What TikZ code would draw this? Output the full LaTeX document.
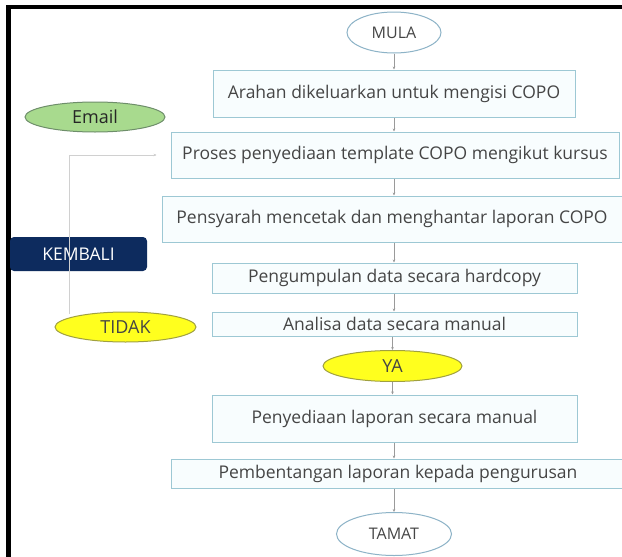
\documentclass[tikz,border=0pt]{standalone}
\usepackage{fontspec}
\setmainfont{Open Sans}
\usetikzlibrary{shapes.geometric,arrows.meta,calc}
\definecolor{bxline}{HTML}{9DC8D4}
\definecolor{bxfill}{HTML}{F8FDFE}
\definecolor{elline}{HTML}{8DB3C7}
\definecolor{txt}{HTML}{454545}
\definecolor{emfill}{HTML}{A8DA8E}
\definecolor{emline}{HTML}{6E8E6A}
\definecolor{navy}{HTML}{0D2B5E}
\definecolor{yel}{HTML}{FFFF1E}
\definecolor{yelline}{HTML}{A0A040}
\definecolor{conn}{HTML}{9A9A9A}
\definecolor{fbline}{HTML}{D0D0D0}
\tikzset{
  stepbox/.style={draw=bxline, line width=1pt, fill=bxfill, rectangle, inner sep=0pt, text=txt, font=\fontsize{17.5}{20}\selectfont},
  term/.style={draw=elline, line width=1pt, fill=white, ellipse, inner sep=0pt, text=txt, font=\fontsize{16}{19}\selectfont},
  yesno/.style={draw=yelline, line width=1pt, fill=yel, ellipse, inner sep=0pt, text=txt, font=\fontsize{18}{21}\selectfont},
  flow/.style={draw=conn, line width=0.7pt, -{Stealth[length=3pt,width=2.6pt]}},
}
\begin{document}
\begin{tikzpicture}[x=1pt,y=-1pt]
\useasboundingbox (0,0) rectangle (622,557);
\fill[white] (0,0) rectangle (622,557);
% frame
\fill[black] (6,5) rectangle (622,9);
\fill[black] (6,5) rectangle (11,557);

% nodes
\node[term, minimum width=94pt, minimum height=41pt] (mula) at (394,32.5) {MULA};
\node[stepbox, minimum width=362pt, minimum height=47pt] (b1) at (394,93.5) {Arahan dikeluarkan untuk mengisi COPO};
\node[stepbox, minimum width=448pt, minimum height=46pt] (b2) at (395,155) {Proses penyediaan template COPO mengikut kursus};
\node[stepbox, minimum width=460pt, minimum height=46pt] (b3) at (392,219) {Pensyarah mencetak dan menghantar laporan COPO};
\node[stepbox, minimum width=365pt, minimum height=30pt] (b4) at (394.5,278) {Pengumpulan data secara hardcopy};
\node[stepbox, minimum width=365pt, minimum height=24pt] (b5) at (394.5,324) {Analisa data secara manual};
\node[yesno, minimum width=139pt, minimum height=31pt] (ya) at (392.5,366) {YA};
\node[stepbox, minimum width=365pt, minimum height=47pt] (b6) at (394.5,418.5) {Penyediaan laporan secara manual};
\node[stepbox, minimum width=454pt, minimum height=29pt] (b7) at (398,473.5) {Pembentangan laporan kepada pengurusan};
\node[term, minimum width=115pt, minimum height=43pt] (tamat) at (394,534) {TAMAT};

\node[draw=emline, line width=1pt, fill=emfill, ellipse, inner sep=0pt, minimum width=140pt, minimum height=30pt, text=black!85, font=\fontsize{18}{21}\selectfont] (email) at (95,117) {Email};
\node[fill=navy, rounded corners=4pt, inner sep=0pt, minimum width=137pt, minimum height=34pt, text=white, font=\fontsize{17.5}{21}\selectfont] (kembali) at (78.5,254) {KEMBALI};
\node[yesno, minimum width=141pt, minimum height=30pt] (tidak) at (125.5,327) {TIDAK};

% connectors
\draw[flow] (mula.south) -- (b1.north -| mula.south);
\draw[flow] (b1.south -| mula.south) -- (b2.north -| mula.south);
\draw[flow] (b2.south -| mula.south) -- (b3.north -| mula.south);
\draw[flow] (b3.south -| mula.south) -- (b4.north -| mula.south);
\draw[flow] (b4.south -| mula.south) -- (b5.north -| mula.south);
\draw[flow] (b5.south -| ya.north) -- (ya.north);
\draw[flow] (ya.south) -- (b6.north -| ya.south);
\draw[flow] (b6.south -| mula.south) -- (b7.north -| mula.south);
\draw[flow] (b7.south -| mula.south) -- (tamat.north);

% feedback
\coordinate (fbA) at (69,314);
\coordinate (fbB) at (69,155);
\coordinate (fbC) at ([xshift=-14pt]b2.west);
\draw[draw=fbline, line width=0.8pt, -{Stealth[length=3pt,width=2.6pt,fill=conn]}] (fbA) -- (fbB) -- (fbC);
\end{tikzpicture}
\end{document}
